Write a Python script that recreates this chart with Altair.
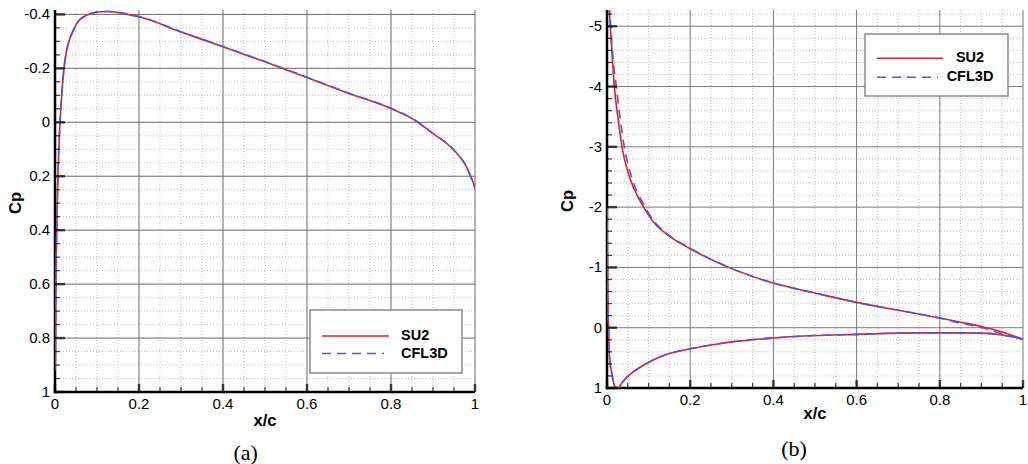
import altair as alt
import pandas as pd

# ---------------- data: panel (a) ----------------
A_SU2_X = [0.0, 0.001, 0.002, 0.004, 0.007, 0.012, 0.016, 0.0214, 0.027, 0.034, 0.042, 0.0516,
           0.0754, 0.09, 0.107, 0.125, 0.15, 0.175, 0.2, 0.3, 0.4, 0.5, 0.6, 0.7, 0.8, 0.85,
           0.9, 0.95, 0.98, 1.0]
A_SU2_CP = [0.92, 0.86, 0.6, 0.41, 0.2, 0.0, -0.1, -0.2, -0.26, -0.304, -0.335, -0.366,
            -0.397, -0.405, -0.41, -0.411, -0.407, -0.399, -0.391, -0.335, -0.28, -0.224, -0.166,
            -0.107, -0.051, -0.014, 0.042, 0.104, 0.166, 0.24]
A_CFL_X = [0.0, 0.001, 0.002, 0.004, 0.007, 0.012, 0.016, 0.0214, 0.027, 0.034, 0.042, 0.0516,
           0.0754, 0.09, 0.107, 0.125, 0.15, 0.175, 0.2, 0.3, 0.4, 0.5, 0.6, 0.7, 0.8, 0.85,
           0.9, 0.95, 0.98, 1.0]
A_CFL_CP = [0.9, 0.85, 0.6, 0.4, 0.2, 0.0, -0.1, -0.2, -0.262, -0.305, -0.336, -0.367,
            -0.398, -0.406, -0.411, -0.411, -0.408, -0.4, -0.392, -0.336, -0.281, -0.225, -0.167,
            -0.108, -0.052, -0.015, 0.041, 0.103, 0.166, 0.245]

# ---------------- data: panel (b) ----------------
B_SU2_UP_X = [0.004, 0.0055, 0.008, 0.0125, 0.0176, 0.026, 0.036, 0.054, 0.084, 0.112, 0.144,
              0.2, 0.3, 0.4, 0.5, 0.6, 0.7, 0.8, 0.85, 0.9, 0.95, 1.0]
B_SU2_UP_CP = [-5.6, -5.28, -5.0, -4.5, -4.0, -3.5, -3.0, -2.5, -2.05, -1.75, -1.55,
               -1.31, -0.98, -0.74, -0.575, -0.42, -0.29, -0.16, -0.09, -0.02, 0.07, 0.19]
B_SU2_LO_X = [0.0, 0.001, 0.002, 0.004, 0.006, 0.009, 0.012, 0.0176, 0.022, 0.025, 0.028, 0.04,
              0.064, 0.104, 0.144, 0.2, 0.27, 0.3, 0.4, 0.5, 0.6, 0.7, 0.8, 0.9, 0.95, 1.0]
B_SU2_LO_CP = [-2.0, -1.2, -0.5, 0.05, 0.48, 0.66, 0.78, 0.95, 1.02, 1.05, 1.0, 0.88,
               0.73, 0.56, 0.44, 0.35, 0.265, 0.235, 0.17, 0.13, 0.11, 0.09, 0.085, 0.09, 0.12, 0.19]
B_CFL_UP_X = [0.004, 0.006, 0.009, 0.014, 0.0224, 0.031, 0.0416, 0.059, 0.088, 0.115, 0.146,
              0.2, 0.3, 0.4, 0.5, 0.6, 0.7, 0.8, 0.85, 0.9, 0.95, 1.0]
B_CFL_UP_CP = [-5.6, -5.28, -5.0, -4.5, -4.0, -3.5, -3.0, -2.5, -2.05, -1.75, -1.55,
               -1.32, -0.98, -0.74, -0.575, -0.42, -0.29, -0.16, -0.075, -0.005, 0.1, 0.19]
B_CFL_LO_X = [0.0, 0.001, 0.002, 0.004, 0.006, 0.009, 0.012, 0.0176, 0.022, 0.025, 0.028, 0.04,
              0.064, 0.104, 0.144, 0.2, 0.27, 0.3, 0.4, 0.5, 0.6, 0.7, 0.8, 0.9, 0.95, 1.0]
B_CFL_LO_CP = [-2.0, -1.2, -0.5, 0.05, 0.48, 0.66, 0.78, 0.95, 1.02, 1.05, 1.0, 0.88,
               0.73, 0.56, 0.44, 0.35, 0.265, 0.235, 0.17, 0.13, 0.11, 0.09, 0.085, 0.09, 0.12, 0.19]

SERIES = ["SU2", "CFL3D"]
CAPTIONS = ["(a)", "(b)"]
X_TITLE = "x/c"
Y_TITLE = "Cp"

# ---------------- ticks and tick labels ----------------
X_MAJOR = [0, 0.2, 0.4, 0.6, 0.8, 1]
X_LABELS = ["0", "0.2", "0.4", "0.6", "0.8", "1"]
X_MINOR = [0.05, 0.1, 0.15, 0.25, 0.3, 0.35, 0.45, 0.5, 0.55, 0.65, 0.7, 0.75, 0.85, 0.9, 0.95]
A_Y_MAJOR = [-0.4, -0.2, 0, 0.2, 0.4, 0.6, 0.8, 1]
A_Y_LABELS = ["-0.4", "-0.2", "0", "0.2", "0.4", "0.6", "0.8", "1"]
A_Y_MINOR = [-0.35, -0.3, -0.25, -0.15, -0.1, -0.05, 0.05, 0.1, 0.15, 0.25, 0.3, 0.35,
             0.45, 0.5, 0.55, 0.65, 0.7, 0.75, 0.85, 0.9, 0.95]
B_Y_MAJOR = [-5, -4, -3, -2, -1, 0, 1]
B_Y_LABELS = ["-5", "-4", "-3", "-2", "-1", "0", "1"]
B_Y_MINOR = [-5.2, -4.8, -4.6, -4.4, -4.2, -3.8, -3.6, -3.4, -3.2, -2.8, -2.6, -2.4, -2.2,
             -1.8, -1.6, -1.4, -1.2, -0.8, -0.6, -0.4, -0.2, 0.2, 0.4, 0.6, 0.8]

RED = "#e41f26"
BLUE = "#5252f2"
SANS = "Liberation Sans"
SERIF = "Liberation Serif"


def curve_df(xs, cps, surface):
    return pd.DataFrame({"x": xs, "cp": cps, "surface": surface})


def panel(su2_parts, cfl_parts, y_major, y_labels, y_minor, y_domain, W, H, grid_color,
          xtitle_y, legend, caption, cap_x, bounds_marker=False):
    xs = alt.Scale(domain=[0, 1], nice=False, zero=False)
    ys = alt.Scale(domain=y_domain, nice=False, zero=False, reverse=True)
    one = pd.DataFrame({"k": [0]})

    x_grid = [v for v in X_MAJOR if v != 0]
    y_grid = [v for v in y_major if v != y_domain[1]]

    layers = []
    # minor dotted grid
    layers.append(alt.Chart(pd.DataFrame({"x": X_MINOR})).mark_rule(
        color="#bcbcbc", strokeDash=[1, 2], strokeWidth=1).encode(
        x=alt.X("x:Q", scale=xs, axis=None)))
    layers.append(alt.Chart(pd.DataFrame({"cp": y_minor})).mark_rule(
        color="#bcbcbc", strokeDash=[1, 2], strokeWidth=1).encode(
        y=alt.Y("cp:Q", scale=ys, axis=None)))
    # major grid
    layers.append(alt.Chart(pd.DataFrame({"x": x_grid})).mark_rule(
        color=grid_color, strokeWidth=1).encode(
        x=alt.X("x:Q", scale=xs, axis=None)))
    layers.append(alt.Chart(pd.DataFrame({"cp": y_grid})).mark_rule(
        color=grid_color, strokeWidth=1).encode(
        y=alt.Y("cp:Q", scale=ys, axis=None)))

    # axis lines
    layers.append(alt.Chart(one).mark_rule(color="black", strokeWidth=2.5).encode(
        x=alt.value(0), x2=alt.value(0), y=alt.value(0), y2=alt.value(H + 1.25)))
    layers.append(alt.Chart(one).mark_rule(color="black", strokeWidth=2.5).encode(
        x=alt.value(-1.25), x2=alt.value(W), y=alt.value(H), y2=alt.value(H)))

    # curves
    su2 = pd.concat([curve_df(*p) for p in su2_parts], ignore_index=True)
    cfl = pd.concat([curve_df(*p) for p in cfl_parts], ignore_index=True)
    layers.append(alt.Chart(su2).mark_line(
        clip=True, interpolate="monotone", color=RED, strokeWidth=1.6).encode(
        x=alt.X("x:Q", scale=xs, axis=None), y=alt.Y("cp:Q", scale=ys, axis=None),
        detail="surface:N"))
    layers.append(alt.Chart(cfl).mark_line(
        clip=True, interpolate="monotone", color=BLUE, strokeWidth=1.6,
        strokeDash=[9, 6]).encode(
        x=alt.X("x:Q", scale=xs, axis=None), y=alt.Y("cp:Q", scale=ys, axis=None),
        detail="surface:N"))

    # inward ticks
    layers.append(alt.Chart(pd.DataFrame({"cp": y_major})).mark_tick(
        orient="horizontal", color="black", thickness=2.5, size=10).encode(
        y=alt.Y("cp:Q", scale=ys, axis=None), x=alt.value(5)))
    layers.append(alt.Chart(pd.DataFrame({"cp": y_minor})).mark_tick(
        orient="horizontal", color="black", thickness=1.3, size=5).encode(
        y=alt.Y("cp:Q", scale=ys, axis=None), x=alt.value(2.5)))
    layers.append(alt.Chart(pd.DataFrame({"x": X_MAJOR})).mark_tick(
        orient="vertical", color="black", thickness=2.5, size=8).encode(
        x=alt.X("x:Q", scale=xs, axis=None), y=alt.value(H - 4)))
    layers.append(alt.Chart(pd.DataFrame({"x": X_MINOR})).mark_tick(
        orient="vertical", color="black", thickness=1.3, size=5).encode(
        x=alt.X("x:Q", scale=xs, axis=None), y=alt.value(H - 2.5)))

    # tick labels
    layers.append(alt.Chart(pd.DataFrame({"cp": y_major, "lab": y_labels})).mark_text(
        align="right", baseline="middle", font=SANS, fontSize=15, color="black").encode(
        y=alt.Y("cp:Q", scale=ys, axis=None), x=alt.value(-5), text="lab:N"))
    layers.append(alt.Chart(pd.DataFrame({"x": X_MAJOR, "lab": X_LABELS})).mark_text(
        align="center", baseline="top", font=SANS, fontSize=15, color="black").encode(
        x=alt.X("x:Q", scale=xs, axis=None), y=alt.value(H + 5), text="lab:N"))

    # axis titles
    layers.append(alt.Chart(one).mark_text(
        align="center", baseline="middle", font=SANS, fontSize=16.5, fontWeight="bold",
        color="black").encode(x=alt.value(W / 2), y=alt.value(H + xtitle_y),
                              text=alt.value(X_TITLE)))
    layers.append(alt.Chart(one).mark_text(
        align="center", baseline="alphabetic", angle=270, font=SANS, fontSize=16.5,
        fontWeight="bold", color="black").encode(x=alt.value(-34), y=alt.value(H / 2 + 2),
                                                 text=alt.value(Y_TITLE)))

    # legend
    bx, bx2, by, by2, lx1, lx2a, lx2b, ly1, ly2, tx, talign = legend
    layers.append(alt.Chart(one).mark_rect(
        fill="white", stroke="#8a8a8a", strokeWidth=1.5).encode(
        x=alt.value(bx), x2=alt.value(bx2), y=alt.value(by), y2=alt.value(by2)))
    layers.append(alt.Chart(one).mark_rule(color=RED, strokeWidth=1.6).encode(
        x=alt.value(lx1), x2=alt.value(lx2a), y=alt.value(ly1), y2=alt.value(ly1)))
    layers.append(alt.Chart(one).mark_rule(color=BLUE, strokeWidth=1.6, strokeDash=[9, 6]).encode(
        x=alt.value(lx1), x2=alt.value(lx2b), y=alt.value(ly2), y2=alt.value(ly2)))
    for label, ly in zip(SERIES, [ly1, ly2]):
        layers.append(alt.Chart(one).mark_text(
            align=talign, baseline="middle", font=SANS, fontSize=14.5, fontWeight="bold",
            color="black").encode(x=alt.value(tx), y=alt.value(ly), text=alt.value(label)))

    # caption
    layers.append(alt.Chart(one).mark_text(
        align="center", baseline="middle", font=SERIF, fontSize=22, color="black").encode(
        x=alt.value(cap_x), y=alt.value(H + 61), text=alt.value(caption)))

    if bounds_marker:
        layers.append(alt.Chart(one).mark_rule(opacity=0, strokeWidth=1).encode(
            x=alt.value(-54.5), x2=alt.value(-54.5), y=alt.value(-9.5), y2=alt.value(-9.5)))

    return alt.layer(*layers).properties(width=W, height=H)


chart_a = panel(
    [(A_SU2_X, A_SU2_CP, "upper")], [(A_CFL_X, A_CFL_CP, "upper")],
    A_Y_MAJOR, A_Y_LABELS, A_Y_MINOR, [-0.4163, 1], 420, 382, "#6a6a6a", 29,
    (255, 407, 300, 363, 267, 334, 329, 326, 343.5, 346, "left"),
    CAPTIONS[0], 190.7, bounds_marker=True)

chart_b = panel(
    [(B_SU2_UP_X, B_SU2_UP_CP, "upper"), (B_SU2_LO_X, B_SU2_LO_CP, "lower")],
    [(B_CFL_UP_X, B_CFL_UP_CP, "upper"), (B_CFL_LO_X, B_CFL_LO_CP, "lower")],
    B_Y_MAJOR, B_Y_LABELS, B_Y_MINOR, [-5.27, 1], 416, 378, "#7a7a7a", 25.5,
    (258, 401, 24, 86, 270, 336, 331, 48.3, 67.3, 363, "center"),
    CAPTIONS[1], 187)

chart = alt.hconcat(chart_a, chart_b, spacing=132, bounds="flush").configure(
    padding=0, background="white").configure_view(stroke=None)

chart.save("out.html", embed_options={"renderer": "svg", "actions": False})
